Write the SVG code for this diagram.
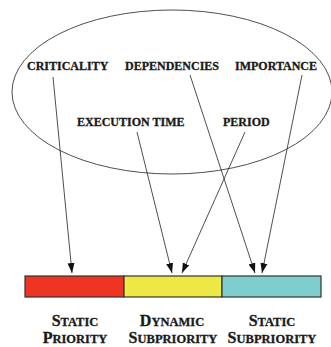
<svg xmlns="http://www.w3.org/2000/svg" width="331" height="347" viewBox="0 0 331 347">
<style>
.lbl{font-family:"Liberation Serif","Times New Roman",serif;font-weight:bold;font-size:12px;fill:#1a1a1a;stroke:#1a1a1a;stroke-width:0.3}
.cap{font-family:"Liberation Serif","Times New Roman",serif;font-weight:bold;fill:#1a1a1a;stroke:#1a1a1a;stroke-width:0.3;text-anchor:middle}
.big{font-size:16px}
.sm{font-size:12.5px}
.conn{stroke:#222;stroke-width:0.8;fill:none;marker-end:url(#ah)}
.bar{stroke:#333;stroke-width:1.2}
</style>
<defs>
<marker id="ah" markerUnits="userSpaceOnUse" markerWidth="11" markerHeight="8" refX="10" refY="3.5" orient="auto" viewBox="0 0 11 7">
<path d="M0,0 L10,3.5 L0,7 Z" fill="#111"/>
</marker>
</defs>
<rect width="331" height="347" fill="#fff"/>
<g id="ellipse"><ellipse cx="172" cy="92" rx="160" ry="82" fill="none" stroke="#222" stroke-width="0.8"/></g>
<g id="criticality"><text class="lbl" x="27" y="70">CRITICALITY</text></g>
<g id="dependencies"><text class="lbl" x="125" y="70">DEPENDENCIES</text></g>
<g id="importance"><text class="lbl" x="235" y="70">IMPORTANCE</text></g>
<g id="execution-time"><text class="lbl" x="77" y="126">EXECUTION TIME</text></g>
<g id="period"><text class="lbl" x="223" y="126">PERIOD</text></g>
<g id="bar">
<rect id="static-priority-bar" class="bar" x="25" y="276" width="99" height="21" fill="#EE3524"/>
<rect id="dynamic-subpriority-bar" class="bar" x="124" y="276" width="98" height="21" fill="#EEE844"/>
<rect id="static-subpriority-bar" class="bar" x="222" y="276" width="99" height="21" fill="#7ECECE"/>
</g>
<g id="connectors">
<line class="conn" x1="53" y1="77" x2="72" y2="273"/>
<line class="conn" x1="137" y1="132" x2="172" y2="273"/>
<line class="conn" x1="245" y1="132" x2="182" y2="273"/>
<line class="conn" x1="190" y1="75" x2="255" y2="273"/>
<line class="conn" x1="302" y1="75" x2="262" y2="273"/>
</g>
<g id="static-priority">
<text class="cap" x="75" y="326"><tspan class="big">S</tspan><tspan class="sm">TATIC</tspan></text>
<text class="cap" x="75" y="343"><tspan class="big">P</tspan><tspan class="sm">RIORITY</tspan></text>
</g>
<g id="dynamic-subpriority">
<text class="cap" x="172" y="326"><tspan class="big">D</tspan><tspan class="sm">YNAMIC</tspan></text>
<text class="cap" x="173" y="343"><tspan class="big">S</tspan><tspan class="sm">UBPRIORITY</tspan></text>
</g>
<g id="static-subpriority">
<text class="cap" x="272" y="326"><tspan class="big">S</tspan><tspan class="sm">TATIC</tspan></text>
<text class="cap" x="272" y="343"><tspan class="big">S</tspan><tspan class="sm">UBPRIORITY</tspan></text>
</g>
</svg>
